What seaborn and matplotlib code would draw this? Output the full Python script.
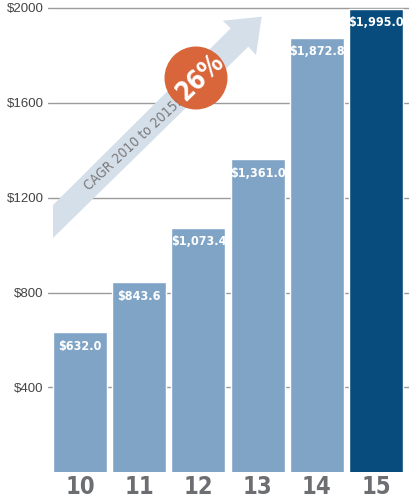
import matplotlib
matplotlib.use("Agg")
import matplotlib.pyplot as plt
import seaborn as sns
import pandas as pd
from matplotlib import font_manager
from matplotlib.patches import Polygon, Circle

# data
years = ["10", "11", "12", "13", "14", "15"]
revenue = [632.0, 843.6, 1073.4, 1361.0, 1872.8, 1995.0]
bar_labels = ["$632.0", "$843.6", "$1,073.4", "$1,361.0", "$1,872.8", "$1,995.0"]
y_ticks = [400, 800, 1200, 1600, 2000]
y_tick_labels = ["$400", "$800", "$1200", "$1600", "$2000"]
cagr_text = "CAGR 2010 to 2015:"
cagr_value = "26%"

light = "#80a4c6"
dark = "#074c7c"
colors = [light] * 5 + [dark]


# look for a condensed face, otherwise use Liberation Sans a bit smaller
def pick_narrow():
    for f in font_manager.fontManager.ttflist:
        fn = f.fname.lower()
        if "narrow" in fn or "condensed" in fn:
            return f.name, "condensed", True
    return "Liberation Sans", "normal", False


narrow, stretch, has_narrow = pick_narrow()
scale = 1.0 if has_narrow else 0.85

sns.set_style("white")
plt.rcParams["font.family"] = ["Liberation Sans", "DejaVu Sans"]

df = pd.DataFrame({"year": years, "revenue": revenue})

W, H = 409, 499
fig = plt.figure(figsize=(W / 100, H / 100), dpi=100)
ax = fig.add_axes([48 / W, 27 / H, 1 - 48 / W, 1 - 27 / H])

sns.barplot(data=df, x="year", y="revenue", hue="year", palette=colors,
            legend=False, width=0.912, saturation=1, ax=ax, zorder=3)

ax.set_xlim(-0.54, 5.557)
ax.set_ylim(44, 2032)
ax.set_yticks(y_ticks)
ax.set_yticklabels(y_tick_labels)
ax.yaxis.grid(True, color="#9b9b9b", linewidth=1.0, zorder=0)
ax.set_axisbelow(True)
ax.tick_params(axis="y", length=0, pad=3, labelsize=9.5, labelcolor="#444444")
ax.tick_params(axis="x", length=0, pad=2, labelcolor="#6d6e71")
for lab in ax.get_xticklabels():
    lab.set_fontfamily(narrow)
    lab.set_fontstretch(stretch)
    lab.set_fontweight("bold")
    lab.set_fontsize(17 if has_narrow else 15)
ax.set_xlabel("")
ax.set_ylabel("")
for s in ax.spines.values():
    s.set_visible(False)

for i, (v, t) in enumerate(zip(revenue, bar_labels)):
    ax.annotate(t, (i, v), xytext=(0, -5.5), textcoords="offset points",
                ha="center", va="top", color="white", fontsize=9 * scale,
                fontweight="bold", family=narrow, fontstretch=stretch, zorder=5)


# decoration: growth arrow, placed in pixel coordinates
def px(x, y):
    return (x / W, 1 - y / H)


arrow_pts = [(53, 205), (230.7, 28.3), (222.7, 20.7), (261.7, 16.7),
             (256, 55), (248.3, 46.7), (53, 238)]
fig.patches.append(Polygon([px(*p) for p in arrow_pts], closed=True,
                           facecolor="#d5dfea", edgecolor="none",
                           transform=fig.transFigure, zorder=4))
fig.patches.append(Circle((196 / 100, (H - 78) / 100), 31.5 / 100,
                          facecolor="#d9663a", edgecolor="none",
                          transform=fig.dpi_scale_trans, zorder=5))

fig.text(*px(133, 145), cagr_text, rotation=43, ha="center", va="center",
         rotation_mode="anchor", color="#7a7a7a", fontsize=10 * scale,
         family=narrow, fontstretch=stretch, zorder=6)
fig.text(*px(198, 76), cagr_value, rotation=44, ha="center", va="center_baseline",
         rotation_mode="anchor", color="white", fontsize=18.5 * scale,
         fontweight="bold", family=narrow, fontstretch=stretch, zorder=7)

fig.savefig("out.png", dpi=100)
